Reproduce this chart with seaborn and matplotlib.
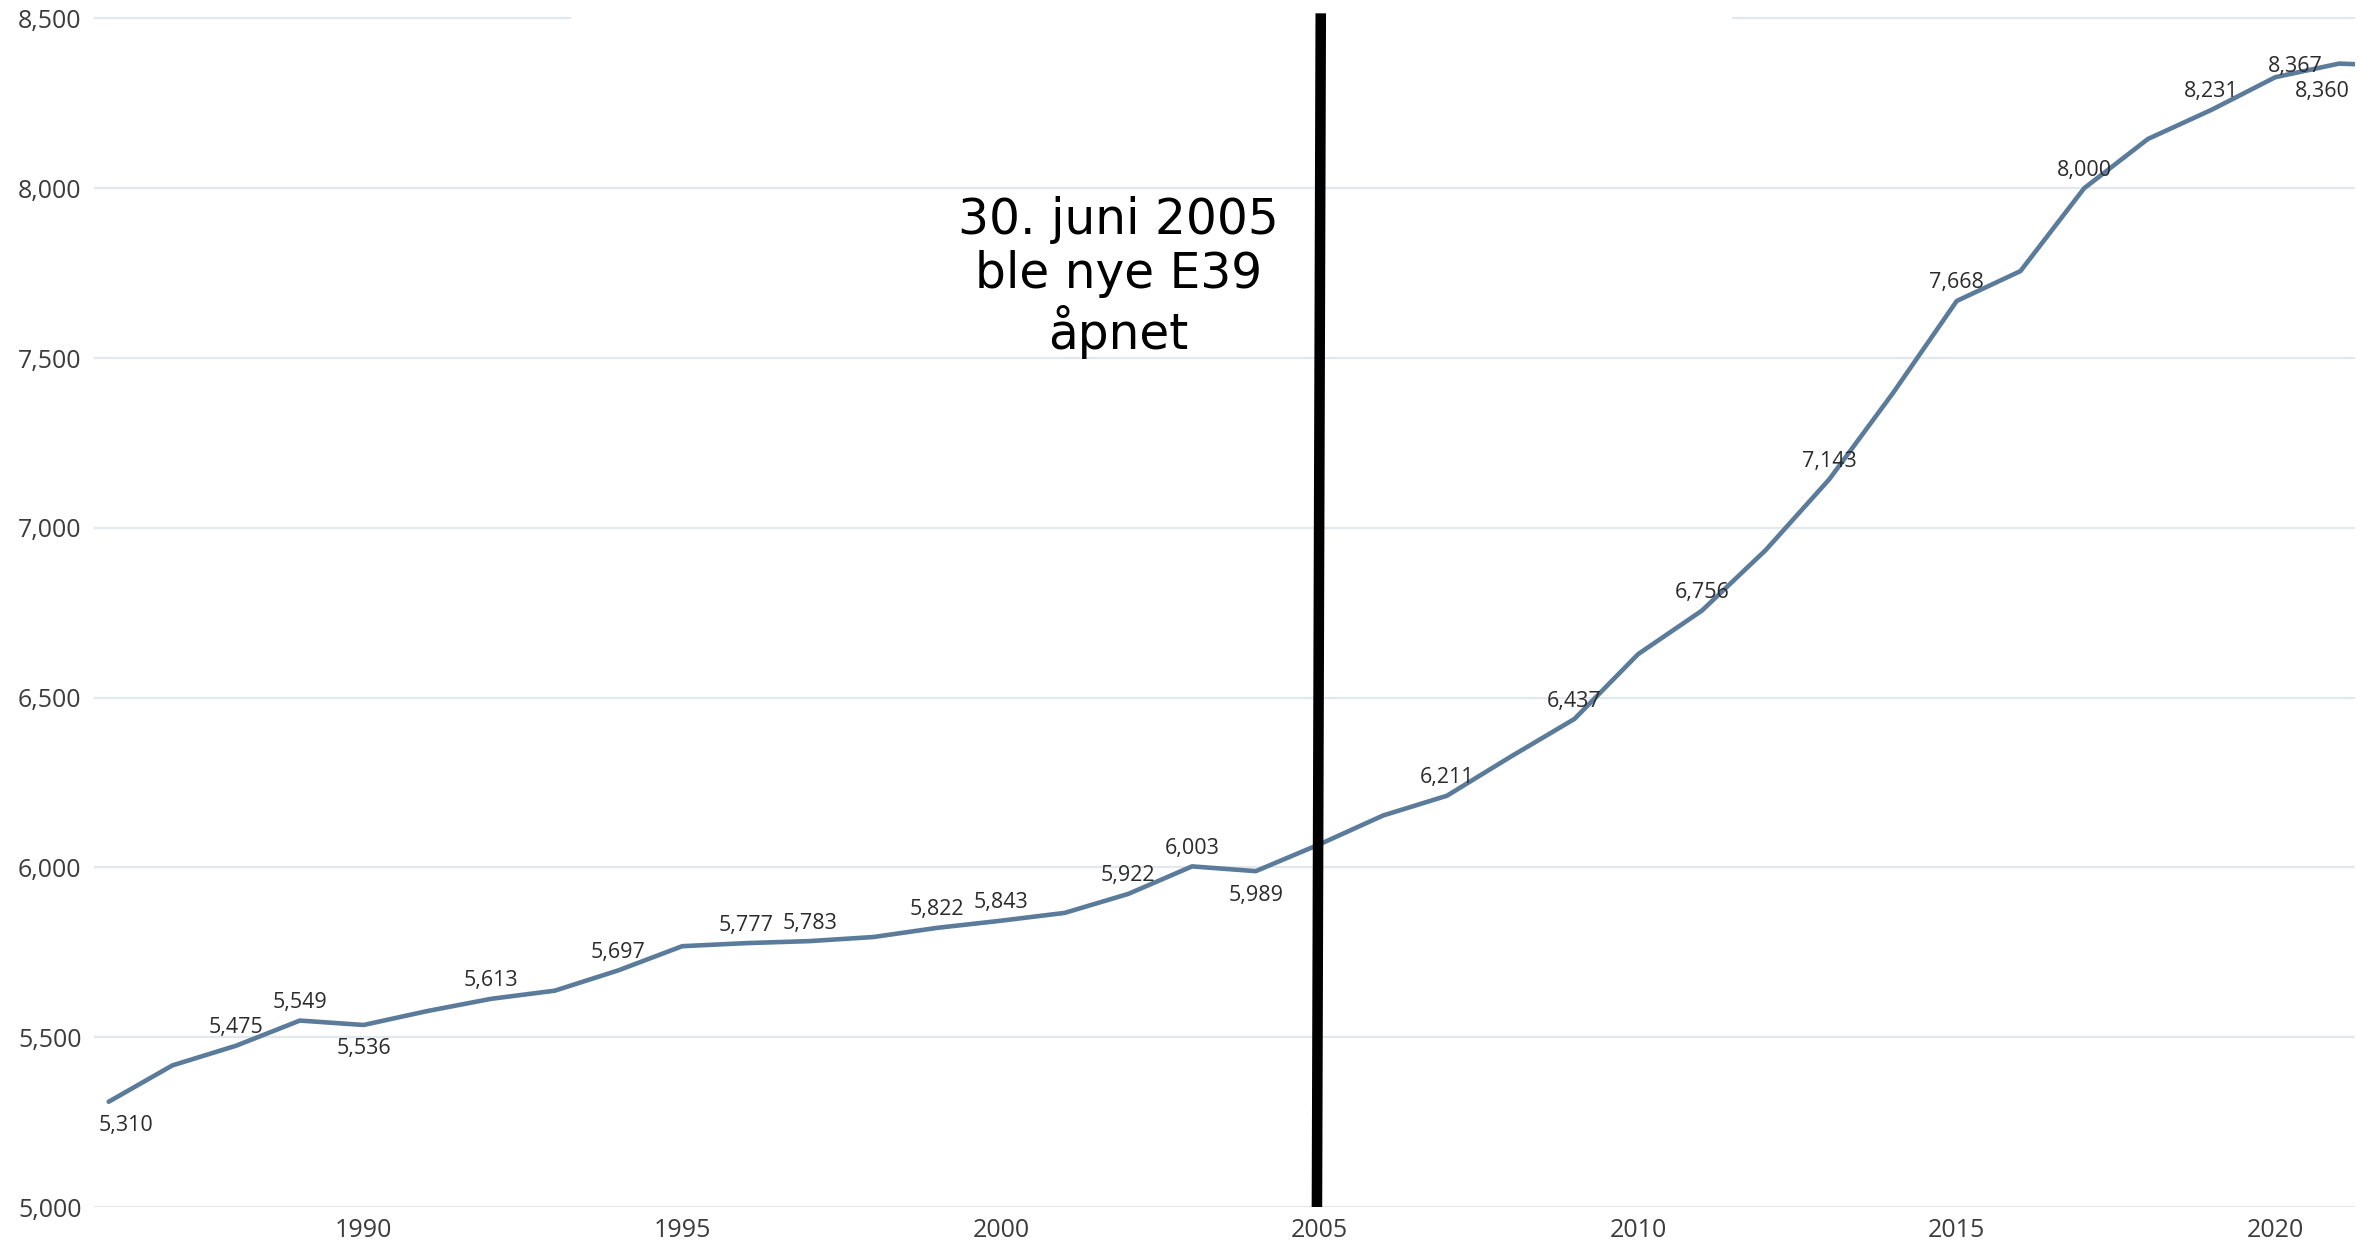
import numpy as np
import pandas as pd
import matplotlib.pyplot as plt
import matplotlib.ticker as mticker
from matplotlib.patches import Rectangle
import seaborn as sns

# Population by year
years = list(range(1986, 2023))
population = [5310, 5417, 5475, 5549, 5536, 5577, 5613, 5637, 5697, 5768,
              5777, 5783, 5795, 5822, 5843, 5866, 5922, 6003, 5989, 6068,
              6153, 6211, 6326, 6437, 6628, 6756, 6934, 7143, 7397, 7668,
              7756, 8000, 8145, 8231, 8327, 8367, 8360]

# Which points get a value label, and on which side
label_years = [1986, 1988, 1989, 1990, 1992, 1994, 1996, 1997, 1999, 2000,
               2002, 2003, 2004, 2007, 2009, 2011, 2013, 2015, 2017, 2019,
               2021, 2022]
label_side = ['first', 'above', 'above', 'below', 'above', 'above', 'above',
              'above', 'above', 'above', 'above', 'above', 'below', 'above',
              'above', 'above', 'above', 'above', 'above', 'above',
              'edge1', 'edge2']

y_ticks = [5000, 5500, 6000, 6500, 7000, 7500, 8000, 8500]
x_ticks = [1990, 1995, 2000, 2005, 2010, 2015, 2020]

annotation_text = "30. juni 2005\nble nye E39\nåpnet"
event_year = 2005

df = pd.DataFrame({'year': years, 'population': population})

sns.set_theme(style='white')
plt.rcParams['font.family'] = ['Open Sans', 'DejaVu Sans']

fig = plt.figure(figsize=(23.69, 12.46), dpi=100)
ax = fig.add_axes([0.0397, 0.0313, 0.9544, 0.958])

sns.lineplot(data=df, x='year', y='population', color='#5b7b9b',
             linewidth=3.3, ax=ax, zorder=2)

ax.set_xlim(1985.77, 2021.25)
ax.set_ylim(5000, 8515)
ax.set_xticks(x_ticks)
ax.set_yticks(y_ticks)
ax.yaxis.set_major_formatter(mticker.StrMethodFormatter('{x:,.0f}'))
ax.tick_params(axis='both', length=0, labelsize=18, labelcolor='#3c3c3c')
ax.tick_params(axis='x', pad=8)
ax.tick_params(axis='y', pad=9)
ax.set_xlabel('')
ax.set_ylabel('')
sns.despine(ax=ax, left=True, bottom=True)
ax.set_axisbelow(True)
ax.yaxis.grid(True, color='#e3e8ee', linewidth=1.6)
ax.xaxis.grid(False)

# gap in the top gridline (covered in the original)
ax.add_patch(Rectangle((1993.26, 8485), 18.21, 30, facecolor='white',
                       edgecolor='none', zorder=1))

# value labels
offsets = {'above': (0, 18), 'below': (0, -24), 'first': (17, -24),
           'edge1': (-44, -3), 'edge2': (-81, -26)}
for yr, side in zip(label_years, label_side):
    val = population[years.index(yr)]
    ax.annotate(f'{val:,}', xy=(yr, val), xytext=offsets[side],
                textcoords='offset pixels', ha='center', va='center',
                fontsize=15.5, color='#2b2b2b', annotation_clip=False,
                zorder=4)

# event marker line
ax.plot([event_year - 0.04, event_year + 0.02], [5000, 8515], color='black',
        linewidth=7.6, solid_capstyle='butt', zorder=3, clip_on=False)
ax.text(2001.84, 7738, annotation_text, ha='center', va='center',
        fontsize=35, color='black', family='DejaVu Sans', linespacing=1.16)

fig.savefig('out.png', dpi=100)
